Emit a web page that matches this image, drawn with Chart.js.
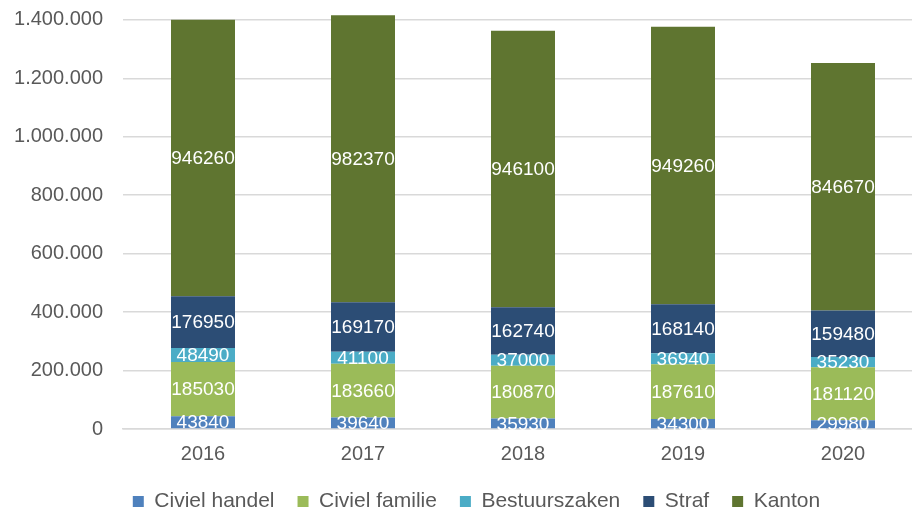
<!DOCTYPE html>
<html>
<head>
<meta charset="utf-8">
<script src="https://cdn.jsdelivr.net/npm/chart.js@4/dist/chart.umd.min.js"></script>
<style>
  body { margin: 0; overflow: hidden; background: #fff; }
</style>
</head>
<body>
<canvas id="zaken_chart" width="923" height="514"></canvas>
<script>
// Instroom zaken per rechtsgebied, 2016-2020

const years = ['2016', '2017', '2018', '2019', '2020'];
const civielHandel = [43840, 39640, 35930, 34300, 29980];
const civielFamilie = [185030, 183660, 180870, 187610, 181120];
const bestuurszaken = [48490, 41100, 37000, 36940, 35230];
const straf = [176950, 169170, 162740, 168140, 159480];
const kanton = [946260, 982370, 946100, 949260, 846670];

const yTicks = [0, 200000, 400000, 600000, 800000, 1000000, 1200000, 1400000];

const seriesNames = ['Civiel handel', 'Civiel familie', 'Bestuurszaken', 'Straf', 'Kanton'];
const seriesColors = ['#4f81bd', '#9bbb59', '#4bacc6', '#2c4d75', '#5f7530'];
const seriesData = [civielHandel, civielFamilie, bestuurszaken, straf, kanton];

const fontFam = '"Liberation Sans", Arial, sans-serif';

function dotted(v) {
    return String(v).replace(/\B(?=(\d{3})+(?!\d))/g, '.');
}

// white value labels in the middle of each segment
const segmentLabels = {
    id: 'segmentLabels',
    afterLayout(chart) {
        // nudge the legend to where the original has it
        chart.legend.left += 9;
        chart.legend.right += 9;
        chart.legend.top -= 11;
        chart.legend.bottom -= 11;
    },
    afterDatasetsDraw(chart) {
        const ctx = chart.ctx;
        ctx.save();
        ctx.fillStyle = '#ffffff';
        ctx.font = '19px ' + fontFam;
        ctx.textAlign = 'center';
        ctx.textBaseline = 'middle';
        chart.data.datasets.forEach((ds, i) => {
            const meta = chart.getDatasetMeta(i);
            meta.data.forEach((bar, j) => {
                const y = (bar.y + bar.base) / 2;
                ctx.fillText(ds.data[j], bar.x, y + 1);
            });
        });
        ctx.restore();
    }
};

let datasets = [];
for (let i = 0; i < seriesNames.length; i++) {
    datasets.push({
        label: seriesNames[i],
        data: seriesData[i],
        backgroundColor: seriesColors[i],
        borderWidth: 0,
        barPercentage: 0.4,
        categoryPercentage: 1.0
    });
}

const ctx_zaken = document.getElementById('zaken_chart').getContext('2d');
let zaken_chart = new Chart(ctx_zaken, {
    type: 'bar',
    data: { labels: years, datasets: datasets },
    plugins: [segmentLabels],
    options: {
        responsive: false,
        animation: false,
        layout: { padding: { left: 12, right: 0, top: 14, bottom: -19 } },
        scales: {
            x: {
                stacked: true,
                grid: { display: false, drawTicks: false },
                border: { color: '#d9d9d9', width: 1.5 },
                ticks: { color: '#595959', font: { family: fontFam, size: 20 }, padding: 13 }
            },
            y: {
                stacked: true,
                min: 0,
                max: 1420000,
                afterBuildTicks: (s) => { s.ticks = yTicks.map(v => ({ value: v })); },
                afterFit: (s) => { s.width = 111; s.paddingTop = 0; s.paddingBottom = 0; },
                grid: { color: '#d9d9d9', lineWidth: 1.5, drawTicks: false },
                border: { display: false },
                ticks: {
                    color: '#595959',
                    font: { family: fontFam, size: 20 },
                    padding: 20,
                    callback: (v) => dotted(v)
                }
            }
        },
        plugins: {
            legend: {
                position: 'bottom',
                labels: {
                    color: '#595959',
                    font: { family: fontFam, size: 21 },
                    boxWidth: 11,
                    boxHeight: 11,
                    padding: 23
                }
            },
            tooltip: { enabled: false }
        }
    }
});
</script>
</body>
</html>
